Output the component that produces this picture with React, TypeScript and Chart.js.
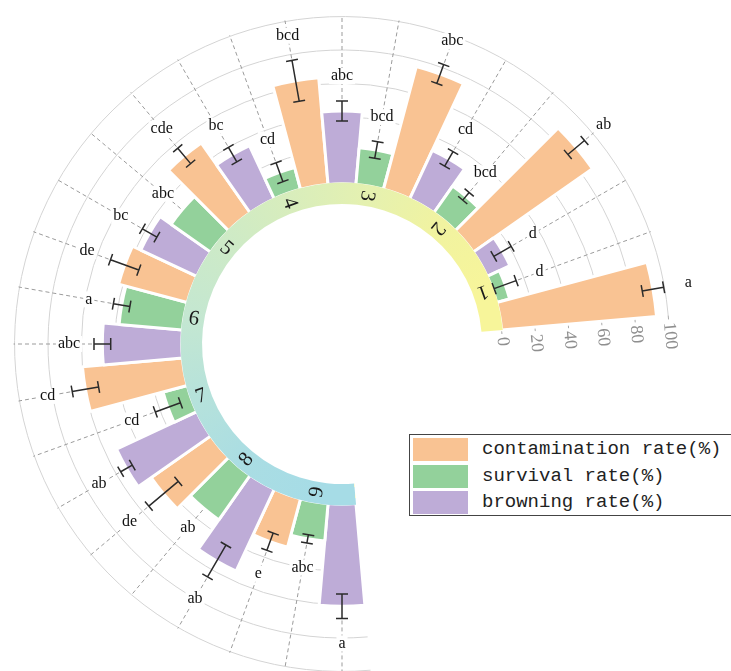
import React, { useEffect, useRef } from "react";
import { Chart, registerables } from "chart.js";
Chart.register(...registerables);

const groups = ["1", "2", "3", "4", "5", "6", "7", "8", "9"];
const seriesNames = ["contamination rate(%)", "survival rate(%)", "browning rate(%)"];
const contamination = [93, 87, 76, 64, 51, 42.5, 60, 43.5, 30];
const contaminationErr = [6.5, 6.5, 6, 12.4, 6, 9, 8, 11.5, 5.5];
const survival = [8, 19.5, 22, 13.5, 29, 38, 15, 32.6, 22.5];
const survivalErr = [7, 3, 5, 6, 0, 5, 8, 0, 2.5];
const browning = [15, 32, 43.5, 35, 37, 47.5, 53, 54, 61];
const browningErr = [6, 5, 6, 5, 5, 5, 4, 11, 7.3];
const contaminationSig = ["a", "ab", "abc", "bcd", "cde", "de", "cd", "de", "e"];
const survivalSig = ["d", "bcd", "bcd", "cd", "abc", "a", "cd", "ab", "abc"];
const browningSig = ["d", "cd", "abc", "bc", "bc", "abc", "ab", "ab", "a"];
const radialTicks = [0, 20, 40, 60, 80, 100];
const seriesColors = ["#F9C393", "#93D19B", "#BEACD7"];
const ringColors = ["#F7F59A", "#F1F3A0", "#E5F1B0", "#D8EDBC", "#CDEAC7", "#C4E7D1", "#B6E2DB", "#AADDE3", "#A6DCE6"];

export default function App() {
  const ref = useRef<HTMLCanvasElement>(null);

  useEffect(() => {
    const labels: string[] = [];
    const values: number[] = [];
    const errs: number[] = [];
    const sigs: string[] = [];
    const bg: string[] = [];
    const groupOf: number[] = [];
    const series: [number[], number[], string[], string, string][] = [
      [browning, browningErr, browningSig, seriesColors[2], seriesNames[2]],
      [survival, survivalErr, survivalSig, seriesColors[1], seriesNames[1]],
      [contamination, contaminationErr, contaminationSig, seriesColors[0], seriesNames[0]],
    ];
    for (let g = groups.length - 1; g >= 0; g--) {
      for (const [vals, er, sg, col, name] of series) {
        labels.push(groups[g] + " " + name);
        values.push(vals[g]);
        errs.push(er[g]);
        sigs.push(sg[g]);
        bg.push(col);
        groupOf.push(g);
      }
    }

    const decor = {
      id: "radialDecor",
      afterDatasetsUpdate(chart: any) {
        const sc = chart.scales.r;
        const r0 = sc.getDistanceFromCenterForValue(0);
        chart.getDatasetMeta(0).data.forEach((el: any) => {
          el.innerRadius = r0;
        });
      },
      beforeDatasetsDraw(chart: any) {
        const ctx = chart.ctx as CanvasRenderingContext2D;
        const sc = chart.scales.r;
        const els = chart.getDatasetMeta(0).data;
        const cx = sc.xCenter, cy = sc.yCenter;
        const a0 = els[0].startAngle;
        const a1 = els[els.length - 1].endAngle;
        ctx.save();
        ctx.strokeStyle = "#d4d4d4";
        ctx.lineWidth = 1;
        for (const t of radialTicks) {
          if (t === 0) continue;
          const r = sc.getDistanceFromCenterForValue(t);
          ctx.beginPath();
          ctx.arc(cx, cy, r, a0, a1, false);
          ctx.stroke();
        }
        // radial axis ticks and labels
        const cs = Math.cos(a1), sn = Math.sin(a1);
        const px = -sn, py = cs;
        ctx.strokeStyle = "#aaaaaa";
        ctx.fillStyle = "#8f8f8f";
        ctx.font = "18px 'Liberation Serif', serif";
        ctx.textAlign = "left";
        ctx.textBaseline = "middle";
        for (const t of radialTicks) {
          const r = sc.getDistanceFromCenterForValue(t);
          const x = cx + r * cs, y = cy + r * sn;
          ctx.beginPath();
          ctx.moveTo(x, y);
          ctx.lineTo(x + px * 4, y + py * 4);
          ctx.stroke();
          ctx.save();
          ctx.translate(x + px * 7, y + py * 7);
          ctx.rotate(a1 + Math.PI / 2);
          ctx.fillText(String(t), 0, 0);
          ctx.restore();
        }
        ctx.restore();
      },
      afterDatasetsDraw(chart: any) {
        const ctx = chart.ctx as CanvasRenderingContext2D;
        const sc = chart.scales.r;
        const els = chart.getDatasetMeta(0).data;
        const cx = sc.xCenter, cy = sc.yCenter;
        const a0 = els[0].startAngle;
        const a1 = els[els.length - 1].endAngle;
        const r0 = sc.getDistanceFromCenterForValue(0);
        const rIn = 140;
        const rOut = r0 + 1.2;
        const rMax = sc.getDistanceFromCenterForValue(100) + 1;
        ctx.save();
        // ring
        const grad = (ctx as any).createConicGradient(a0, cx, cy);
        const groupAngle: number[] = [];
        els.forEach((el: any, i: number) => {
          if (i % 3 === 1) groupAngle[groupOf[i]] = (el.startAngle + el.endAngle) / 2;
        });
        const stops: [number, string][] = [];
        for (let g = 0; g < groups.length; g++) {
          stops.push([(groupAngle[g] - a0) / (Math.PI * 2), ringColors[g]]);
        }
        stops.sort((a, b) => a[0] - b[0]);
        for (const [t, c] of stops) grad.addColorStop(Math.min(1, Math.max(0, t)), c);
        ctx.fillStyle = grad;
        ctx.beginPath();
        ctx.arc(cx, cy, rOut, a0, a1, false);
        ctx.arc(cx, cy, rIn, a1, a0, true);
        ctx.closePath();
        ctx.fill();
        // ring numbers
        ctx.fillStyle = "#1a1a1a";
        ctx.font = "21px 'Liberation Serif', serif";
        ctx.textAlign = "center";
        ctx.textBaseline = "middle";
        for (let g = 0; g < groups.length; g++) {
          const a = groupAngle[g];
          const rm = (rIn + r0) / 2;
          ctx.save();
          ctx.translate(cx + rm * Math.cos(a), cy + rm * Math.sin(a));
          ctx.rotate(a + Math.PI);
          ctx.fillText(groups[g], 0, 1);
          ctx.restore();
        }
        // dashed guide lines
        ctx.strokeStyle = "#9b9b9b";
        ctx.lineWidth = 1;
        ctx.setLineDash([4, 3]);
        els.forEach((el: any, i: number) => {
          const a = (el.startAngle + el.endAngle) / 2;
          const top = values[i] + errs[i];
          const rs = sc.getDistanceFromCenterForValue(top) + 2;
          if (rs >= rMax) return;
          ctx.beginPath();
          ctx.moveTo(cx + rs * Math.cos(a), cy + rs * Math.sin(a));
          ctx.lineTo(cx + rMax * Math.cos(a), cy + rMax * Math.sin(a));
          ctx.stroke();
        });
        ctx.setLineDash([]);
        // error bars
        ctx.strokeStyle = "#2b2b2b";
        ctx.lineWidth = 1.5;
        els.forEach((el: any, i: number) => {
          if (!errs[i]) return;
          const a = (el.startAngle + el.endAngle) / 2;
          const c = Math.cos(a), s = Math.sin(a);
          const ra = sc.getDistanceFromCenterForValue(values[i] - errs[i]);
          const rb = sc.getDistanceFromCenterForValue(values[i] + errs[i]);
          const h = 6;
          ctx.beginPath();
          ctx.moveTo(cx + ra * c, cy + ra * s);
          ctx.lineTo(cx + rb * c, cy + rb * s);
          for (const r of [ra, rb]) {
            const x = cx + r * c, y = cy + r * s;
            ctx.moveTo(x - s * h, y + c * h);
            ctx.lineTo(x + s * h, y - c * h);
          }
          ctx.stroke();
        });
        // significance letters
        ctx.font = "16px 'Liberation Serif', serif";
        ctx.textAlign = "center";
        ctx.textBaseline = "middle";
        els.forEach((el: any, i: number) => {
          const a = (el.startAngle + el.endAngle) / 2;
          const r = sc.getDistanceFromCenterForValue(values[i] + errs[i]) + 25;
          const x = cx + r * Math.cos(a), y = cy + r * Math.sin(a);
          const w = ctx.measureText(sigs[i]).width + 4;
          ctx.fillStyle = "#ffffff";
          ctx.fillRect(x - w / 2, y - 8, w, 16);
          ctx.fillStyle = "#111111";
          ctx.fillText(sigs[i], x, y);
        });
        ctx.restore();
      },
    };

    const chart = new Chart(ref.current as HTMLCanvasElement, {
      type: "polarArea",
      data: {
        labels,
        datasets: [
          {
            data: values,
            backgroundColor: bg,
            borderColor: "#ffffff",
            borderWidth: 3,
            angle: 10,
            clip: false,
          } as any,
        ],
      },
      options: {
        responsive: false,
        devicePixelRatio: 1,
        animation: false,
        events: [],
        layout: { padding: { left: 48, top: 50, right: 95, bottom: 33 } },
        plugins: { legend: { display: false }, tooltip: { enabled: false } },
        scales: {
          r: {
            min: -95.8,
            max: 80,
            startAngle: 175,
            grid: { display: false },
            angleLines: { display: false },
            ticks: { display: false },
            pointLabels: { display: false },
          },
        },
      } as any,
      plugins: [decor],
    });
    return () => chart.destroy();
  }, []);

  const rowTops = [438, 465, 491];
  return (
    <div style={{ position: "fixed", left: 0, top: 0, width: 731, height: 671, overflow: "hidden", background: "#fff" }}>
      <canvas ref={ref} width={731} height={671} style={{ display: "block", width: 731, height: 671 }} />
      <div
        style={{
          position: "absolute",
          left: 409,
          top: 434,
          width: 340,
          height: 82,
          border: "1.5px solid #444",
          background: "#fff",
          boxSizing: "border-box",
        }}
      />
      {seriesNames.map((name, i) => (
        <React.Fragment key={name}>
          <div
            style={{
              position: "absolute",
              left: 413,
              top: rowTops[i],
              width: 55,
              height: 23,
              background: seriesColors[i],
            }}
          />
          <div
            style={{
              position: "absolute",
              left: 482,
              top: rowTops[i] - 2,
              height: 26,
              lineHeight: "26px",
              fontFamily: "'Liberation Mono', monospace",
              fontSize: 19,
              color: "#222",
              whiteSpace: "nowrap",
            }}
          >
            {name}
          </div>
        </React.Fragment>
      ))}
    </div>
  );
}
